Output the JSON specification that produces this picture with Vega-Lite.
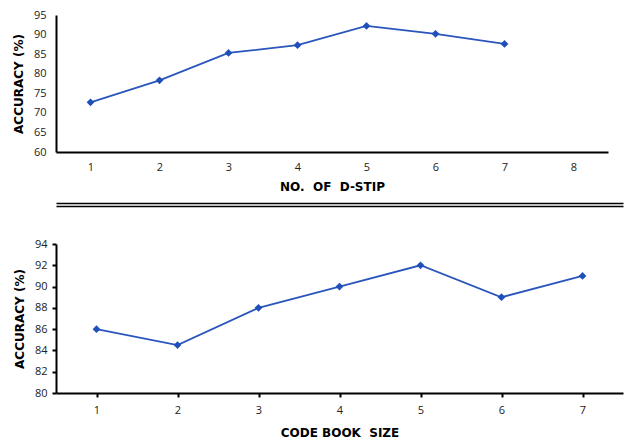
{
  "$schema": "https://vega.github.io/schema/vega-lite/v6.json",
  "padding": {"left": 12, "top": 9, "right": 2, "bottom": 2},
  "spacing": 11,
  "datasets": {
    "dstip": [
      {"n": "1", "acc": 72.7},
      {"n": "2", "acc": 78.3},
      {"n": "3", "acc": 85.3},
      {"n": "4", "acc": 87.3},
      {"n": "5", "acc": 92.2},
      {"n": "6", "acc": 90.2},
      {"n": "7", "acc": 87.6}
    ],
    "codebook": [
      {"n": "1", "acc": 86.0},
      {"n": "2", "acc": 84.5},
      {"n": "3", "acc": 88.0},
      {"n": "4", "acc": 90.0},
      {"n": "5", "acc": 92.0},
      {"n": "6", "acc": 89.0},
      {"n": "7", "acc": 91.0}
    ]
  },
  "config": {
    "view": {"stroke": null},
    "font": "DejaVu Sans",
    "axis": {
      "grid": false,
      "domainColor": "#000000",
      "domainWidth": 2,
      "labelFont": "Open Sans",
      "labelFontSize": 11,
      "labelColor": "#222222",
      "labelOverlap": false,
      "titleFont": "DejaVu Sans",
      "titleFontSize": 12,
      "titleFontWeight": "bold",
      "titleColor": "#000000"
    }
  },
  "vconcat": [
    {
      "width": 552,
      "height": 137,
      "data": {"name": "dstip"},
      "encoding": {
        "x": {"field": "n", "type": "ordinal", "scale": {"domain": ["1","2","3","4","5","6","7","8"]},
              "axis": {"title": "NO.\u00a0 OF\u00a0 D-STIP", "labelAngle": 0, "ticks": false, "labelPadding": 9, "titlePadding": 9}},
        "y": {"field": "acc", "type": "quantitative", "scale": {"domain": [60, 95], "nice": false, "zero": false},
              "axis": {"title": "ACCURACY (%)", "values": [60,65,70,75,80,85,90,95], "tickCount": 8, "labelOverlap": false, "ticks": false, "labelPadding": 10, "titlePadding": 8}}
      },
      "layer": [
        {"mark": {"type": "line", "color": "#2a55bd", "strokeWidth": 1.8}},
        {"mark": {"type": "point", "shape": "diamond", "filled": true, "color": "#1f4fb8", "size": 60, "opacity": 1}}
      ]
    },
    {
      "width": 567,
      "height": 149,
      "data": {"name": "codebook"},
      "resolve": {"axis": {"x": "independent"}},
      "encoding": {
        "y": {"field": "acc", "type": "quantitative", "scale": {"domain": [80, 94], "nice": false, "zero": false},
              "axis": {"title": "ACCURACY (%)", "values": [80,82,84,86,88,90,92,94], "tickCount": 8, "labelOverlap": false, "ticks": true, "tickColor": "#000000", "tickWidth": 2, "tickSize": 4, "labelPadding": 5, "titlePadding": 8}}
      },
      "layer": [
        {
          "mark": {"type": "line", "color": "#2a55bd", "strokeWidth": 1.8},
          "encoding": {
            "x": {"field": "n", "type": "ordinal",
                  "axis": {"title": "CODE BOOK\u00a0 SIZE", "labelAngle": 0, "ticks": true, "bandPosition": 0, "tickColor": "#000000", "tickWidth": 2, "tickSize": 4, "labelPadding": 7, "titlePadding": 12}}
          }
        },
        {
          "mark": {"type": "point", "shape": "diamond", "filled": true, "color": "#1f4fb8", "size": 60, "opacity": 1},
          "encoding": {
            "x": {"field": "n", "type": "ordinal",
                  "axis": {"orient": "top", "title": null, "labels": false, "ticks": false, "offset": 38, "domainWidth": 1.5}}
          }
        },
        {
          "mark": {"type": "line", "strokeOpacity": 0},
          "encoding": {
            "x": {"field": "n", "type": "ordinal",
                  "axis": {"orient": "top", "title": null, "labels": false, "ticks": false, "offset": 41, "domainWidth": 1.5}}
          }
        }
      ]
    }
  ]
}
